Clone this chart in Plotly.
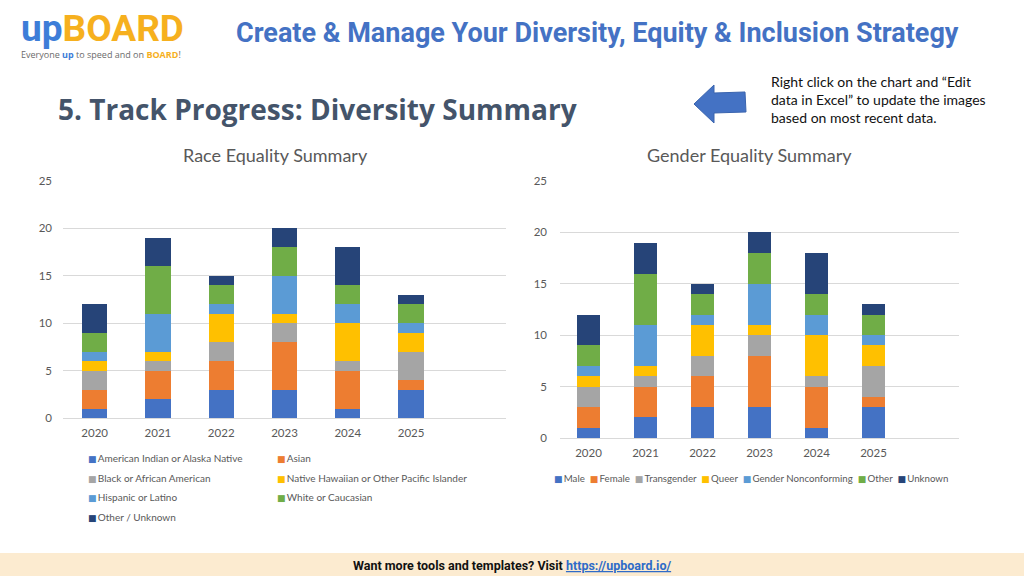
import plotly.graph_objects as go

# ---------------- data ----------------
years = ["2020", "2021", "2022", "2023", "2024", "2025"]

race_names = ["American Indian or Alaska Native", "Asian", "Black or African American",
              "Native Hawaiian or Other Pacific Islander", "Hispanic or Latino",
              "White or Caucasian", "Other / Unknown"]
race_aian = [1, 2, 3, 3, 1, 3]
race_asian = [2, 3, 3, 5, 4, 1]
race_black = [2, 1, 2, 2, 1, 3]
race_nhopi = [1, 1, 3, 1, 4, 2]
race_hisp = [1, 4, 1, 4, 2, 1]
race_white = [2, 5, 2, 3, 2, 2]
race_other = [3, 3, 1, 2, 4, 1]
race_values = [race_aian, race_asian, race_black, race_nhopi, race_hisp, race_white, race_other]

gender_names = ["Male", "Female", "Transgender", "Queer", "Gender Nonconforming", "Other", "Unknown"]
gender_male = [1, 2, 3, 3, 1, 3]
gender_female = [2, 3, 3, 5, 4, 1]
gender_trans = [2, 1, 2, 2, 1, 3]
gender_queer = [1, 1, 3, 1, 4, 2]
gender_gnc = [1, 4, 1, 4, 2, 1]
gender_other = [2, 5, 2, 3, 2, 2]
gender_unknown = [3, 3, 1, 2, 4, 1]
gender_values = [gender_male, gender_female, gender_trans, gender_queer, gender_gnc, gender_other, gender_unknown]

colors = ["#4472C4", "#ED7D31", "#A5A5A5", "#FFC000", "#5B9BD5", "#70AD47", "#264478"]

W, H = 1024, 576
def px(x):
    return x / W
def py(y):
    return 1 - y / H

CHART_FONT = "Lato"
GREY = "#595959"

fig = go.Figure()

for name, vals, col in zip(race_names, race_values, colors):
    fig.add_trace(go.Bar(x=years, y=vals, name=name, marker=dict(color=col, line=dict(width=0)),
                         xaxis="x", yaxis="y", showlegend=False))

for name, vals, col in zip(gender_names, gender_values, colors):
    fig.add_trace(go.Bar(x=years, y=vals, name=name, marker=dict(color=col, line=dict(width=0)),
                         xaxis="x2", yaxis="y2", showlegend=False))

axis_font = dict(family=CHART_FONT, size=11.5, color=GREY)
xcommon = dict(type="category", categoryorder="array", categoryarray=years, range=[-0.5, 6.5],
               showgrid=False, showline=False, zeroline=False, ticks="", tickfont=axis_font,
               ticklabelstandoff=6, fixedrange=True)
ycommon = dict(range=[0, 25], dtick=5, showgrid=True, gridcolor="#D9D9D9", gridwidth=1,
               zeroline=True, zerolinecolor="#D9D9D9", zerolinewidth=1, showline=False,
               ticks="", tickfont=axis_font, fixedrange=True)

fig.update_layout(
    width=W, height=H, margin=dict(l=0, r=0, t=0, b=0, autoexpand=False),
    paper_bgcolor="white", plot_bgcolor="white",
    barmode="stack", bargap=0.6, showlegend=False,
    xaxis=dict(domain=[px(63), px(506)], anchor="y", **xcommon),
    yaxis=dict(domain=[py(418), py(181)], anchor="x", ticklabelstandoff=10, **ycommon),
    xaxis2=dict(domain=[px(560), px(959)], anchor="y2", **xcommon),
    yaxis2=dict(domain=[py(438), py(181)], anchor="x2", ticklabelstandoff=12, **ycommon),
)

ann = []

# ---------------- legends (built from the series names and colours) ----------------
def swatch(c):
    return f"<span style='color:{c};font-family:DejaVu Sans;font-size:9px'>\u25a0</span>"

leg_font = dict(family=CHART_FONT, size=10, color=GREY)
race_cols_x = [86, 275]
race_rows_y = [458, 477.5, 497, 516.5]
for i, (name, col) in enumerate(zip(race_names, colors)):
    r, c = divmod(i, 2)
    ann.append(dict(text=swatch(col) + "\u2009" + name, x=px(race_cols_x[c]), y=py(race_rows_y[r]),
                    xanchor="left", yanchor="middle", font=leg_font))

gender_text = "\u00a0\u00a0".join(swatch(c) + "\u2009" + n for n, c in zip(gender_names, colors))
ann.append(dict(text=gender_text, x=px(751), y=py(478), xanchor="center", yanchor="middle",
                font=dict(family=CHART_FONT, size=9.7, color=GREY)))

# ---------------- slide decorations ----------------
ann.append(dict(text="<b><span style='color:#3D7DD8'>up</span><span style='color:#F6B01E'>BOARD</span></b>",
                x=px(19), y=py(29), xanchor="left", yanchor="middle",
                font=dict(family="Roboto", size=37)))
ann.append(dict(text="Everyone <b><span style='color:#3D7DD8'>up</span></b> to speed and on "
                     "<b><span style='color:#F6B01E'>BOARD</span></b>!",
                x=px(19), y=py(54), xanchor="left", yanchor="middle",
                font=dict(family="Open Sans", size=9, color="#6B6B6B")))
ann.append(dict(text="<b>Create &amp; Manage Your Diversity, Equity &amp; Inclusion Strategy</b>",
                x=px(597), y=py(33), xanchor="center", yanchor="middle",
                font=dict(family="Roboto", size=27, color="#4472C4", weight=900)))
ann.append(dict(text="<b>5. Track Progress: Diversity Summary</b>",
                x=px(56), y=py(109), xanchor="left", yanchor="middle",
                font=dict(family="Open Sans", size=28, color="#44546A")))
ann.append(dict(text="Right click on the chart and \u201cEdit<br>data in Excel\u201d to update the images<br>based on most recent data.",
                x=px(769), y=py(99), xanchor="left", yanchor="middle", align="left",
                font=dict(family="Lato", size=14, color="#111111")))
ann.append(dict(text="Race Equality Summary", x=px(275), y=py(155), xanchor="center", yanchor="middle",
                font=dict(family=CHART_FONT, size=18, color=GREY)))
ann.append(dict(text="Gender Equality Summary", x=px(749), y=py(155), xanchor="center", yanchor="middle",
                font=dict(family=CHART_FONT, size=18, color=GREY)))
ann.append(dict(text="<b>Want more tools and templates? Visit <span style='color:#2F6BC8'><u>https://upboard.io/</u></span></b>",
                x=px(512), y=py(565), xanchor="center", yanchor="middle",
                font=dict(family="Roboto", size=12.5, color="#111111")))
for a in ann:
    a.update(xref="paper", yref="paper", showarrow=False)
fig.update_layout(annotations=ann)

# arrow shape and footer band (paper coords)
pts = [(694, 104), (714, 85), (714, 93), (745, 92), (746, 112), (714, 113), (714, 123)]
path = "M " + " L ".join(f"{px(x):.5f},{py(y):.5f}" for x, y in pts) + " Z"
shapes = [
    dict(type="path", path=path, xref="paper", yref="paper",
         fillcolor="#4472C4", line=dict(color="#3A64AE", width=1)),
    dict(type="rect", x0=0, x1=1, y0=0, y1=py(553), xref="paper", yref="paper",
         fillcolor="#FCEBD0", line=dict(width=0), layer="below"),
]
fig.update_layout(shapes=shapes)

fig.write_html("out.html", config={"displayModeBar": False},
               post_script="document.body.style.margin='0';document.body.style.overflow='hidden';")
